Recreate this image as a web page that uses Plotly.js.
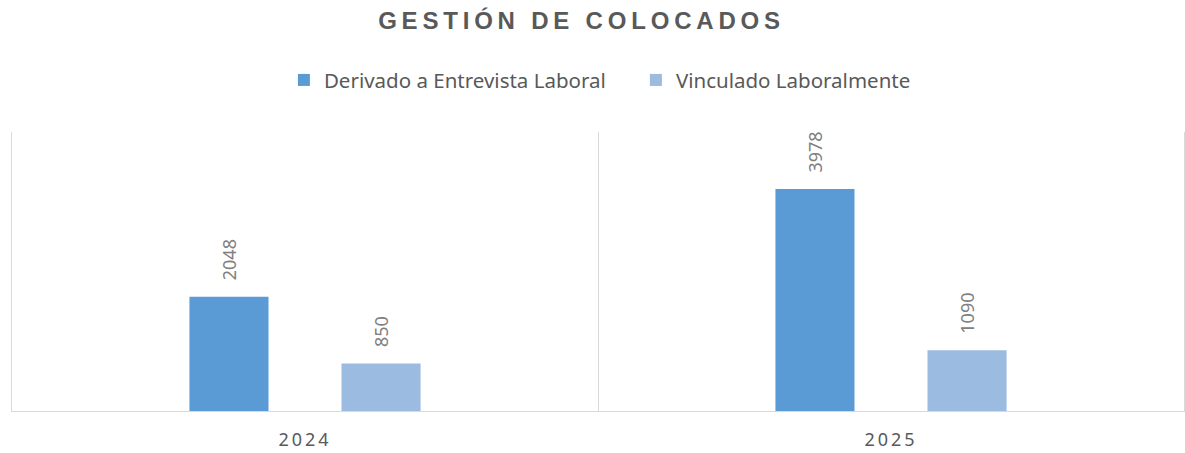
<!DOCTYPE html>
<html>
<head>
<meta charset="utf-8">
<script src="https://cdn.plot.ly/plotly-3.0.1.min.js"></script>
<style>
  html, body { margin: 0; padding: 0; background: #ffffff; }
  #chart { width: 1185px; height: 453px; }
  .gtitle { letter-spacing: 4.8px; }
  .xtick text { letter-spacing: 3px; }
</style>
</head>
<body>
<div id="chart"></div>
<script>
const categories = ["2024", "2025"];
const seriesNames = ["Derivado a Entrevista Laboral", "Vinculado Laboralmente"];
const derivado = [2048, 3978];
const vinculado = [850, 1090];

const colors = ["#5B9BD5", "#9BBBE1"];
const seriesValues = [derivado, vinculado];
const shifts = [-76, 76];

const traces = seriesValues.map((vals, i) => ({
  type: "bar",
  name: seriesNames[i],
  x: categories,
  y: vals,
  marker: { color: colors[i], line: { width: 0 } },
  hoverinfo: "skip"
}));

const annotations = [];
seriesValues.forEach((vals, i) => {
  vals.forEach((v, j) => {
    annotations.push({
      x: j, y: v, xref: "x", yref: "y",
      text: String(v), showarrow: false, textangle: -90,
      xanchor: "center", yanchor: "bottom",
      xshift: shifts[i], yshift: 14,
      font: { family: "Noto Sans, sans-serif", size: 18, color: "#808080" }
    });
  });
});

const layout = {
  width: 1185, height: 453,
  margin: { l: 12, r: 1, t: 132, b: 42 },
  paper_bgcolor: "#ffffff", plot_bgcolor: "#ffffff",
  title: {
    text: "<b>GESTIÓN DE COLOCADOS</b>",
    x: 0.4907, xanchor: "center", y: 0.955, yanchor: "middle",
    font: { family: "Liberation Sans, Arial, sans-serif", size: 24, color: "#595959" }
  },
  barmode: "group",
  bargap: 0.481,
  bargroupgap: 0.48,
  showlegend: true,
  legend: {
    orientation: "h", x: 0.232, xanchor: "left", y: 1.186, yanchor: "middle",
    font: { family: "Noto Sans, sans-serif", size: 20.5, color: "#595959" },
    traceorder: "normal", entrywidth: 307, entrywidthmode: "pixels"
  },
  xaxis: {
    type: "category",
    range: [-0.5, 1.5],
    tickson: "boundaries",
    showgrid: true, gridcolor: "#d9d9d9", gridwidth: 1,
    showline: true, linecolor: "#d9d9d9", linewidth: 1,
    ticks: "", ticklen: 0, tickangle: 0,
    ticklabelstandoff: 12,
    tickfont: { family: "Noto Sans, sans-serif", size: 18, color: "#595959" },
    fixedrange: true
  },
  yaxis: {
    range: [0, 5000],
    showgrid: false, zeroline: false,
    showticklabels: false, ticks: "",
    showline: true, mirror: true, linecolor: "#d9d9d9", linewidth: 1,
    fixedrange: true
  },
  annotations: annotations
};

Plotly.newPlot("chart", traces, layout, { displayModeBar: false, staticPlot: true });
</script>
</body>
</html>
